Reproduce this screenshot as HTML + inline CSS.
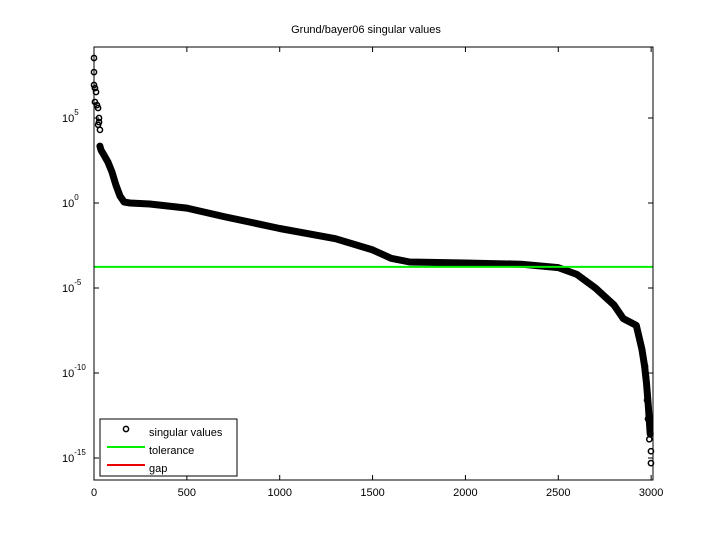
<!DOCTYPE html>
<html><head><meta charset="utf-8"><style>
body{margin:0;background:#fff}
svg text{font-family:"Liberation Sans",sans-serif;font-size:11px;fill:#000}
</style></head><body>
<svg id="chart" width="720" height="540" xmlns="http://www.w3.org/2000/svg">
<rect width="720" height="540" fill="#fff"/>
<text x="366" y="33" text-anchor="middle">Grund/bayer06 singular values</text>
<g id="plot"></g>
</svg>
<script>
const denseIdx=[32,38,54,75,97,118,140,162,194,300,500,700,1000,1300,1500,1600,1700,2000,2300,2500,2600,2700,2800,2850,2920,2950,2965,2975,2985,2995];
const denseLog=[3.35,3.1,2.82,2.41,1.82,1.06,0.41,0.06,0,-0.06,-0.3,-0.8,-1.5,-2.1,-2.76,-3.25,-3.47,-3.53,-3.6,-3.8,-4.2,-5.0,-6.0,-6.8,-7.2,-8.6,-9.6,-10.6,-12,-13.6];
const outIdx=[0,0,0,5,11,5,16,22,27,27,22,32,2999,2999,2990,2983,2978,2972,2967];
const outLog=[8.53,7.7,6.94,6.76,6.53,5.94,5.76,5.59,5.0,4.76,4.6,4.3,-14.6,-15.3,-13.9,-12.7,-11.6,-10.2,-9.6];
const tolLog=-3.76;
const xTicks=[0,500,1000,1500,2000,2500,3000];
const yTicks=[5,0,-5,-10,-15];
const X0=94,X1=653,Y0=47,Y1=480,XMAX=3010;
const sx=v=>X0+v/XMAX*(X1-X0);
const sy=l=>203-l*17;
const NS="http://www.w3.org/2000/svg";
const g=document.getElementById('plot');
function mk(t,a){const e=document.createElementNS(NS,t);for(const k in a)e.setAttribute(k,a[k]);g.appendChild(e);return e;}
// data
let d=denseIdx.map((v,i)=>(i?'L':'M')+sx(v).toFixed(1)+' '+sy(denseLog[i]).toFixed(1)).join(' ');
let p=mk('path',{d:d,fill:'none',stroke:'#000','stroke-width':7,'stroke-linejoin':'round','stroke-linecap':'round'});


outIdx.forEach((v,i)=>{const c=mk('circle',{cx:sx(v),cy:sy(outLog[i]),r:2.6,fill:'none',stroke:'#000','stroke-width':1.5});

});
let tl=mk('line',{x1:X0,x2:X1,y1:sy(tolLog),y2:sy(tolLog),stroke:'#00ee00','stroke-width':2});


// axes box
let bx=mk('rect',{x:X0,y:Y0,width:X1-X0,height:Y1-Y0,fill:'none',stroke:'#000','stroke-width':1});


xTicks.forEach(v=>{const x=sx(v);
mk('line',{x1:x,x2:x,y1:Y1,y2:Y1-5,stroke:'#000'});mk('line',{x1:x,x2:x,y1:Y0,y2:Y0+5,stroke:'#000'});
const t=mk('text',{x:x,y:Y1+16,'text-anchor':'middle'});t.textContent=v;

});
yTicks.forEach(v=>{const y=sy(v);
mk('line',{x1:X0,x2:X0+5,y1:y,y2:y,stroke:'#000'});mk('line',{x1:X1,x2:X1-5,y1:y,y2:y,stroke:'#000'});
const t=mk('text',{x:62,y:y+4});t.innerHTML='10<tspan dy="-7" font-size="8">'+v+'</tspan>';

});
// legend
const lg=document.createElementNS(NS,'g');g.appendChild(lg);


lg.innerHTML='<rect x="100" y="419" width="137" height="57" fill="#fff" stroke="#000"/>'+
'<circle cx="126" cy="429" r="2.6" fill="none" stroke="#000" stroke-width="1.5"/>'+
'<text x="149" y="436">singular values</text>'+
'<line x1="107" x2="145" y1="447" y2="447" stroke="#00ee00" stroke-width="2"/><text x="149" y="454">tolerance</text>'+
'<line x1="107" x2="145" y1="465" y2="465" stroke="#ee0000" stroke-width="2"/><text x="149" y="472">gap</text>';
</script>
</body></html>
